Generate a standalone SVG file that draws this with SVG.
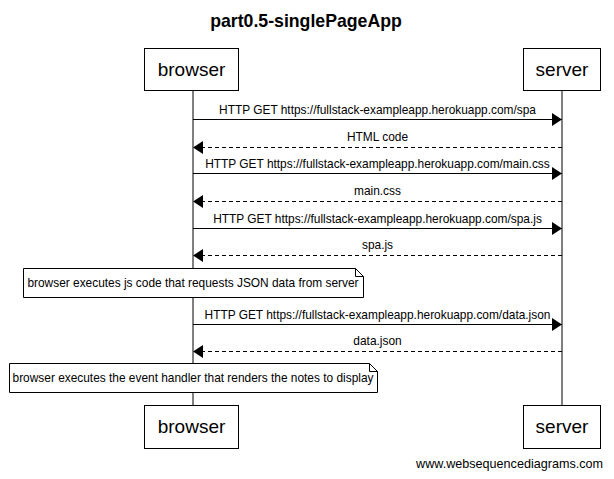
<svg xmlns="http://www.w3.org/2000/svg" width="614" height="479" viewBox="0 0 614 479">
<style>
text{font-family:"Liberation Sans",Arial,sans-serif;fill:#000}
.title{font-size:17.7px;font-weight:bold}
.actor{font-size:19px}
.msg{font-size:11.9px}
.box{fill:#fff;stroke:#000;stroke-width:1}
.life{stroke:#000;stroke-width:1}
.req{stroke:#000;stroke-width:1;fill:none;marker-end:url(#ah)}
.resp{stroke:#000;stroke-width:1;fill:none;stroke-dasharray:4,3;marker-end:url(#ah)}
.wm{font-size:12.6px}
</style>
<defs>
<marker id="ah" markerWidth="11" markerHeight="13" refX="10" refY="6.5" orient="auto" markerUnits="userSpaceOnUse">
<path d="M0,0 L10,6.5 L0,13 Z" fill="#000"/>
</marker>
</defs>
<rect width="614" height="479" fill="#fff"/>
<text class="title" x="306" y="27" text-anchor="middle">part0.5-singlePageApp</text>

<g id="lifelines">
<line class="life" x1="193" y1="91" x2="193" y2="405"/>
<line class="life" x1="562" y1="91" x2="562" y2="405"/>
</g>

<g id="browser-top"><rect class="box" x="144.5" y="48.5" width="94" height="42"/><text class="actor" x="191.5" y="76" text-anchor="middle">browser</text></g>
<g id="server-top"><rect class="box" x="523.5" y="48.5" width="77" height="42"/><text class="actor" x="562" y="76" text-anchor="middle">server</text></g>
<g id="browser-bottom"><rect class="box" x="144.5" y="405.5" width="94" height="43"/><text class="actor" x="191.5" y="433" text-anchor="middle">browser</text></g>
<g id="server-bottom"><rect class="box" x="523.5" y="405.5" width="77" height="43"/><text class="actor" x="562" y="433" text-anchor="middle">server</text></g>

<g id="connectors">
<line class="req" x1="193" y1="119.5" x2="562" y2="119.5"/>
<text class="msg" x="377.5" y="114" text-anchor="middle">HTTP GET https://fullstack-exampleapp.herokuapp.com/spa</text>
<line class="resp" x1="562" y1="147.5" x2="193" y2="147.5"/>
<text class="msg" x="377.5" y="141" text-anchor="middle">HTML code</text>
<line class="req" x1="193" y1="173.5" x2="562" y2="173.5"/>
<text class="msg" x="377.5" y="168" text-anchor="middle">HTTP GET https://fullstack-exampleapp.herokuapp.com/main.css</text>
<line class="resp" x1="562" y1="201.5" x2="193" y2="201.5"/>
<text class="msg" x="377.5" y="195" text-anchor="middle">main.css</text>
<line class="req" x1="193" y1="228.5" x2="562" y2="228.5"/>
<text class="msg" x="377.5" y="223" text-anchor="middle">HTTP GET https://fullstack-exampleapp.herokuapp.com/spa.js</text>
<line class="resp" x1="562" y1="255.5" x2="193" y2="255.5"/>
<text class="msg" x="377.5" y="249" text-anchor="middle">spa.js</text>
<line class="req" x1="193" y1="324.5" x2="562" y2="324.5"/>
<text class="msg" x="377.5" y="319" text-anchor="middle">HTTP GET https://fullstack-exampleapp.herokuapp.com/data.json</text>
<line class="resp" x1="562" y1="351.5" x2="193" y2="351.5"/>
<text class="msg" x="377.5" y="345" text-anchor="middle">data.json</text>
</g>

<g id="note1">
<path class="box" d="M23.5,268.5 H355.5 L363.5,276.5 V297.5 H23.5 Z"/>
<path d="M355.5,268.5 V276.5 H363.5" fill="none" stroke="#000"/>
<text class="msg" x="193" y="287" text-anchor="middle">browser executes js code that requests JSON data from server</text>
</g>
<g id="note2">
<path class="box" d="M9.5,363.5 H369.5 L377.5,371.5 V392.5 H9.5 Z"/>
<path d="M369.5,363.5 V371.5 H377.5" fill="none" stroke="#000"/>
<text class="msg" x="193" y="382" text-anchor="middle">browser executes the event handler that renders the notes to display</text>
</g>

<text class="wm" x="603" y="468" text-anchor="end">www.websequencediagrams.com</text>
</svg>
